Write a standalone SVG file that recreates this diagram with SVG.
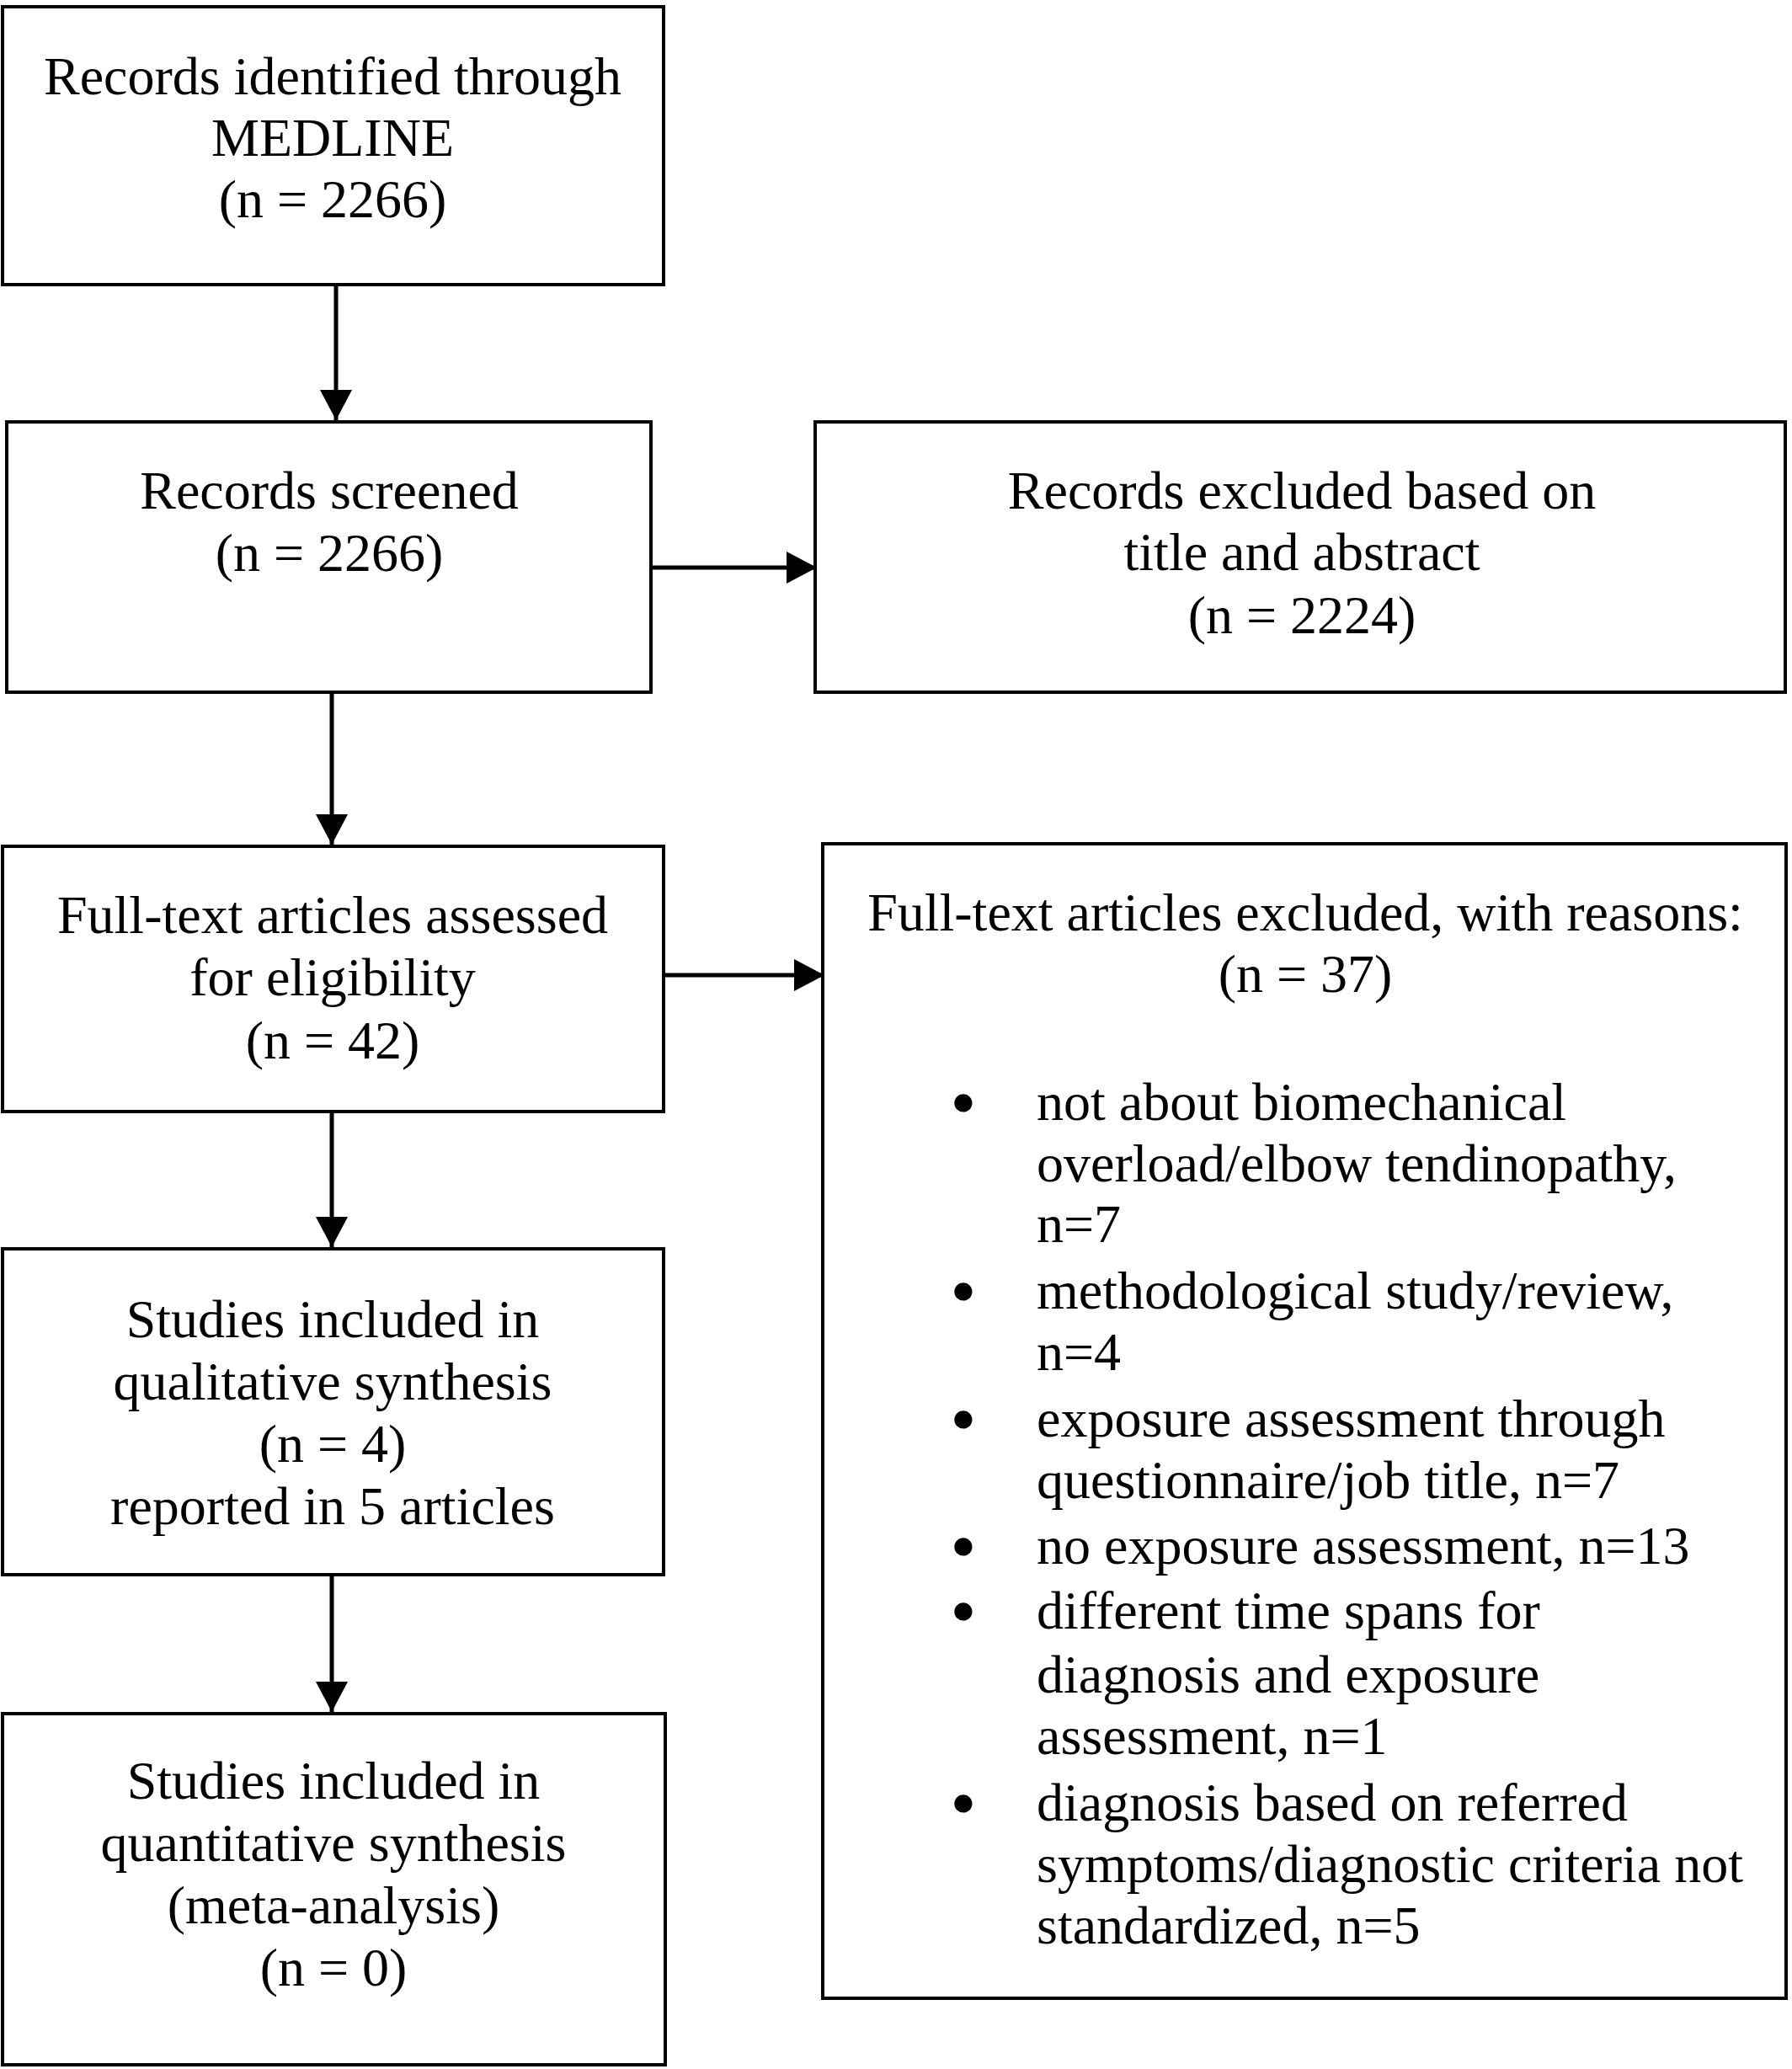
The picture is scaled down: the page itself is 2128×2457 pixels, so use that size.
<svg xmlns="http://www.w3.org/2000/svg" width="2128" height="2457" viewBox="0 0 2128 2457">
<style>
  .box { fill: #ffffff; stroke: #000000; stroke-width: 4; }
  .conn { stroke: #000000; stroke-width: 5; fill: none; }
  text { font-family: "Liberation Serif", "Times New Roman", serif; font-size: 64px; fill: #000000; }
  .c { text-anchor: middle; }
  .bul { font-size: 68px; text-anchor: middle; stroke: #000000; stroke-width: 5; stroke-linejoin: round; }
</style>
<defs>
  <marker id="arrow" viewBox="0 0 36 38" refX="36" refY="19" markerWidth="36" markerHeight="38" markerUnits="userSpaceOnUse" orient="auto">
    <path d="M0,0 L36,19 L0,38 Z" fill="#000000"/>
  </marker>
</defs>
<rect width="2128" height="2457" fill="#ffffff"/>

<g id="connectors">
  <line class="conn" x1="399" y1="340" x2="399" y2="499" marker-end="url(#arrow)"/>
  <line class="conn" x1="775" y1="674" x2="970" y2="674" marker-end="url(#arrow)"/>
  <line class="conn" x1="394" y1="824" x2="394" y2="1003" marker-end="url(#arrow)"/>
  <line class="conn" x1="790" y1="1158" x2="979" y2="1158" marker-end="url(#arrow)"/>
  <line class="conn" x1="394" y1="1322" x2="394" y2="1481" marker-end="url(#arrow)"/>
  <line class="conn" x1="394" y1="1872" x2="394" y2="2033" marker-end="url(#arrow)"/>
</g>

<g id="identified">
  <rect class="box" x="3" y="8" width="785" height="330"/>
  <text class="c" x="395" y="112">Records identified through</text>
  <text class="c" x="395" y="185">MEDLINE</text>
  <text class="c" x="395" y="258">(n = 2266)</text>
</g>

<g id="screened">
  <rect class="box" x="8" y="501" width="765" height="321"/>
  <text class="c" x="391" y="604">Records screened</text>
  <text class="c" x="391" y="678">(n = 2266)</text>
</g>

<g id="excluded-title">
  <rect class="box" x="968" y="501" width="1152" height="321"/>
  <text class="c" x="1546" y="604">Records excluded based on</text>
  <text class="c" x="1546" y="677">title and abstract</text>
  <text class="c" x="1546" y="752">(n = 2224)</text>
</g>

<g id="fulltext-assessed">
  <rect class="box" x="3" y="1005" width="785" height="315"/>
  <text class="c" x="395" y="1108">Full-text articles assessed</text>
  <text class="c" x="395" y="1182">for eligibility</text>
  <text class="c" x="395" y="1257">(n = 42)</text>
</g>

<g id="fulltext-excluded">
  <rect class="box" x="977" y="1002" width="1144" height="1371"/>
  <text class="c" x="1550" y="1105">Full-text articles excluded, with reasons:</text>
  <text class="c" x="1550" y="1178">(n = 37)</text>
  <text class="bul" x="1144" y="1332">•</text>
  <text x="1231" y="1330">not about biomechanical</text>
  <text x="1231" y="1403">overload/elbow tendinopathy,</text>
  <text x="1231" y="1475">n=7</text>
  <text class="bul" x="1144" y="1556">•</text>
  <text x="1231" y="1554">methodological study/review,</text>
  <text x="1231" y="1627">n=4</text>
  <text class="bul" x="1144" y="1708">•</text>
  <text x="1231" y="1706">exposure assessment through</text>
  <text x="1231" y="1779">questionnaire/job title, n=7</text>
  <text class="bul" x="1144" y="1859">•</text>
  <text x="1231" y="1857">no exposure assessment, n=13</text>
  <text class="bul" x="1144" y="1936">•</text>
  <text x="1231" y="1934">different time spans for</text>
  <text x="1231" y="2010">diagnosis and exposure</text>
  <text x="1231" y="2083">assessment, n=1</text>
  <text class="bul" x="1144" y="2164">•</text>
  <text x="1231" y="2162">diagnosis based on referred</text>
  <text x="1231" y="2235">symptoms/diagnostic criteria not</text>
  <text x="1231" y="2308">standardized, n=5</text>
</g>

<g id="qualitative">
  <rect class="box" x="3" y="1483" width="785" height="387"/>
  <text class="c" x="395" y="1588">Studies included in</text>
  <text class="c" x="395" y="1662">qualitative synthesis</text>
  <text class="c" x="395" y="1736">(n = 4)</text>
  <text class="c" x="395" y="1810">reported in 5 articles</text>
</g>

<g id="quantitative">
  <rect class="box" x="3" y="2035" width="787" height="417"/>
  <text class="c" x="396" y="2136">Studies included in</text>
  <text class="c" x="396" y="2210">quantitative synthesis</text>
  <text class="c" x="396" y="2284">(meta-analysis)</text>
  <text class="c" x="396" y="2358">(n = 0)</text>
</g>
</svg>
